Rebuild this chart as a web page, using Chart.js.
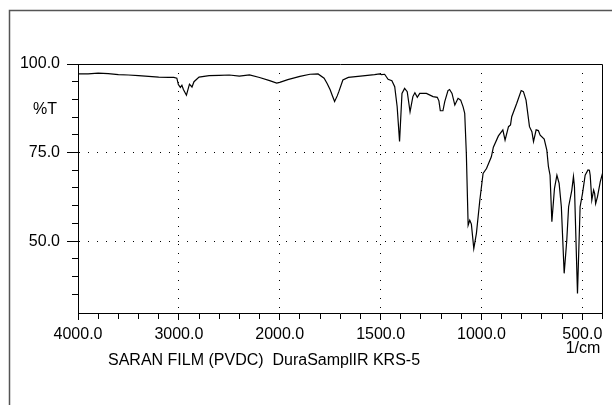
<!DOCTYPE html>
<html>
<head>
<meta charset="utf-8">
<script src="https://cdn.jsdelivr.net/npm/chart.js@4.4.1/dist/chart.umd.min.js"></script>
<style>
  body { margin: 0; background: #fff; }
  canvas { display: block; }
</style>
</head>
<body>
<canvas id="irChart" width="612" height="405"></canvas>
<script>
// IR spectrum: wavenumber (1/cm) and %T
const wavenumbers = [
  4000, 3900, 3800, 3700, 3600, 3500, 3400, 3300, 3200, 3100, 3050, 3020,
  3005, 2985, 2970, 2955, 2925, 2895, 2870, 2850, 2800, 2700, 2600, 2500,
  2400, 2300, 2200, 2100, 2030, 2000, 1960, 1900, 1850, 1810, 1780, 1765,
  1750, 1740, 1728, 1715, 1707, 1687, 1660, 1600, 1530, 1505, 1495, 1480,
  1463, 1444, 1430, 1418, 1406, 1394, 1381, 1368, 1354, 1340, 1330, 1318,
  1306, 1273, 1240, 1219, 1211, 1204, 1191, 1182, 1166, 1158, 1146, 1132,
  1116, 1103, 1091, 1083, 1075, 1066, 1058, 1050, 1038, 1025, 1008, 992,
  975, 951, 941, 916, 894, 883, 866, 856, 850, 825, 803, 792,
  779, 762, 750, 742, 729, 718, 709, 689, 676, 668, 660, 651,
  638, 626, 615, 604, 590, 577, 568, 552, 544, 539, 524, 511,
  499, 486, 472, 465, 461, 453, 444, 439, 434, 425, 411, 400
];
const transmittance = [
  97.2, 97.2, 97.4, 97.3, 97.0, 96.9, 96.7, 96.5, 96.3, 96.2, 96.2, 96.0,
  94.2, 93.4, 94.0, 92.8, 91.2, 94.3, 93.5, 95.0, 96.3, 96.7, 96.8, 96.9,
  96.6, 96.9, 96.2, 95.3, 94.6, 94.8, 95.6, 96.5, 97.1, 97.2, 96.0, 94.5,
  92.7, 91.2, 89.4, 91.0, 92.2, 95.5, 96.2, 96.6, 97.0, 97.2, 97.0, 97.1,
  95.7, 95.3, 93.6, 88.0, 78.1, 91.7, 93.1, 92.2, 86.5, 90.8, 91.9, 90.6,
  91.7, 91.7, 90.8, 90.6, 89.6, 86.8, 86.8, 89.4, 92.5, 92.8, 91.7, 88.4,
  90.3, 89.8, 87.9, 86.1, 74.8, 54.5, 55.9, 54.8, 47.9, 52.2, 61.6, 69.1,
  70.5, 73.8, 76.5, 79.7, 81.4, 78.5, 82.3, 82.8, 85.1, 88.9, 92.5, 92.2,
  89.8, 82.3, 80.9, 78.1, 81.4, 81.2, 79.9, 78.8, 75.7, 71.0, 68.6, 55.5,
  64.9, 68.6, 66.3, 59.7, 40.9, 50.3, 59.7, 64.4, 68.2, 65.3, 35.2, 59.7,
  63.5, 68.6, 70.1, 70.0, 68.6, 61.6, 64.4, 63.5, 60.6, 62.5, 66.8, 69.1
];
const xLabelValues = [4000, 3000, 2000, 1500, 1000, 500];
const yTickValues = [35, 40, 45, 50, 55, 60, 65, 70, 75, 80, 85, 90, 95, 100];
const yLabelValues = [50, 75, 100];

// x axis is stretched 2x below 2000 1/cm
function toAxis(w) { return w >= 2000 ? (4000 - w) / 10 : 200 + (2000 - w) / 5; }
function fromAxis(u) { return Math.round(u <= 200 ? 4000 - u * 10 : 2000 - (u - 200) * 5); }

const xTickValues = [];
for (let w = 4000; w > 2000; w -= 200) xTickValues.push(w);
for (let w = 2000; w >= 400; w -= 100) xTickValues.push(w);

const points = wavenumbers.map((w, i) => ({ x: toAxis(w), y: transmittance[i] }));

const isXMajor = v => xLabelValues.includes(fromAxis(v));
const isYMajor = v => yLabelValues.includes(v);

Chart.defaults.font.family = '"Liberation Sans", Arial, sans-serif';
Chart.defaults.font.size = 16;
Chart.defaults.color = '#000';

const decorations = {
  id: 'decorations',
  afterDraw(chart) {
    const { ctx, chartArea: a } = chart;
    const l = Math.round(a.left) + 0.5, r = Math.round(a.right) - 0.5;
    const t = Math.round(a.top) + 0.5;
    ctx.save();
    ctx.strokeStyle = '#000';
    ctx.lineWidth = 1;
    ctx.beginPath();
    ctx.moveTo(l, t); ctx.lineTo(r, t); ctx.lineTo(r, Math.round(a.bottom));
    ctx.stroke();
    // outer frame
    ctx.strokeStyle = '#555';
    ctx.lineWidth = 1.5;
    ctx.beginPath();
    ctx.moveTo(9.5, 405); ctx.lineTo(9.5, 10.5); ctx.lineTo(612, 10.5);
    ctx.stroke();
    ctx.fillStyle = '#000';
    ctx.font = '16px "Liberation Sans", Arial, sans-serif';
    ctx.textBaseline = 'middle';
    ctx.textAlign = 'center';
    ctx.fillText('%T', 45, 110);
    ctx.fillText('1/cm', 583, 349);
    ctx.textAlign = 'left';
    ctx.fillText('SARAN FILM (PVDC)  DuraSamplIR KRS-5', 108, 361);
    ctx.restore();
  }
};

const config = {
  type: 'line',
  data: {
    datasets: [{
      data: points,
      borderColor: '#000',
      borderWidth: 1.2,
      pointRadius: 0,
      tension: 0,
      fill: false
    }]
  },
  options: {
    responsive: false,
    animation: false,
    layout: { padding: { top: 64, right: 9.5, left: 0, bottom: 0 } },
    plugins: { legend: { display: false }, tooltip: { enabled: false } },
    scales: {
      x: {
        type: 'linear',
        min: 0,
        max: toAxis(400),
        afterBuildTicks: s => { s.ticks = xTickValues.map(w => ({ value: toAxis(w) })); },
        afterFit: s => { s.height = 92; },
        ticks: {
          autoSkip: false,
          maxRotation: 0,
          padding: 5,
          callback: v => isXMajor(v) ? fromAxis(v).toFixed(1) : ''
        },
        grid: {
          color: c => (c.tick && isXMajor(c.tick.value)) ? '#000' : 'rgba(0,0,0,0)',
          tickColor: '#000',
          tickLength: 7,
          tickBorderDash: c => (c.tick && isXMajor(c.tick.value)) ? [] : [5, 100]
        },
        border: { color: '#000', width: 1, dash: [1, 8] }
      },
      y: {
        min: 29.7,
        max: 100,
        afterBuildTicks: s => { s.ticks = yTickValues.map(v => ({ value: v })); },
        afterFit: s => { s.width = 78; },
        ticks: {
          autoSkip: false,
          padding: 7,
          callback: v => isYMajor(v) ? v.toFixed(1) : ''
        },
        grid: {
          color: c => (c.tick && isYMajor(c.tick.value) && c.tick.value < 100) ? '#000' : 'rgba(0,0,0,0)',
          tickColor: '#000',
          tickLength: 11,
          tickBorderDash: c => (c.tick && isYMajor(c.tick.value)) ? [] : [0, 5, 6, 100]
        },
        border: { color: '#000', width: 1, dash: [1, 8] }
      }
    }
  },
  plugins: [decorations]
};

const irChart = new Chart(document.getElementById('irChart'), config);
</script>
</body>
</html>
